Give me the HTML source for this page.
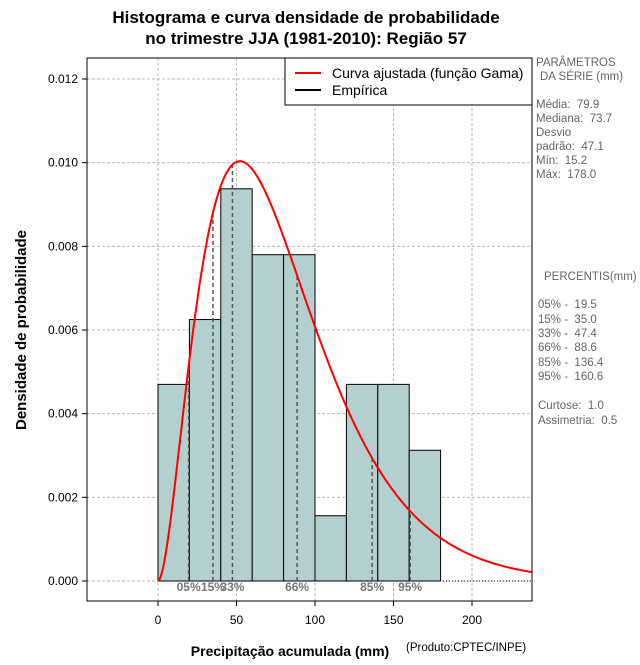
<!DOCTYPE html>
<html><head><meta charset="utf-8"><style>
body{margin:0;background:#fff;}
svg{font-family:"Liberation Sans",sans-serif;}
text{white-space:pre;}
</style></head><body>
<svg id="c" width="640" height="660" viewBox="0 0 640 660">
<text x="306" y="23" text-anchor="middle" font-size="17" font-weight="bold">Histograma e curva densidade de probabilidade</text>
<text x="306" y="44" text-anchor="middle" font-size="17" font-weight="bold">no trimestre JJA (1981-2010): Região 57</text>
<g id="grid"></g><g id="bars"></g><g id="pct"></g><g id="curve"></g><g id="axes"></g>
<rect x="87" y="58" width="445" height="543" fill="none" stroke="#000"/>
<g>
<rect x="285" y="58" width="247" height="47" fill="#fff" stroke="#000"/>
<line x1="295" y1="73" x2="321" y2="73" stroke="red" stroke-width="2"/>
<text x="332" y="78" font-size="14">Curva ajustada (função Gama)</text>
<line x1="295" y1="90" x2="321" y2="90" stroke="#000" stroke-width="2"/>
<text x="332" y="95" font-size="14">Empírica</text>
</g>
<g font-size="11.5" fill="#666">
<text x="536" y="66">PARÂMETROS</text><text x="540" y="80">DA SÉRIE (mm)</text>
<text x="536" y="108">Média:  79.9</text><text x="536" y="122">Mediana:  73.7</text>
<text x="536" y="136">Desvio</text><text x="536" y="150">padrão:  47.1</text>
<text x="536" y="164">Mín:  15.2</text><text x="536" y="178">Máx:  178.0</text>
<text x="544" y="280">PERCENTIS(mm)</text>
<text x="538" y="308">05% -  19.5</text><text x="538" y="323">15% -  35.0</text>
<text x="538" y="337">33% -  47.4</text><text x="538" y="351">66% -  88.6</text>
<text x="538" y="366">85% -  136.4</text><text x="538" y="380">95% -  160.6</text>
<text x="538" y="409">Curtose:  1.0</text><text x="538" y="424">Assimetria:  0.5</text>
</g>
<text x="290" y="656" text-anchor="middle" font-size="14" font-weight="bold">Precipitação acumulada (mm)</text>
<text x="406" y="651" font-size="11.5">(Produto:CPTEC/INPE)</text>
<text transform="translate(26,330) rotate(-90)" text-anchor="middle" font-size="15" font-weight="bold">Densidade de probabilidade</text>
</svg>
<script>
const binStarts=[0,20,40,60,80,100,120,140,160];
const densities=[0.0047,0.00625,0.009375,0.0078,0.0078,0.00156,0.0047,0.0047,0.003125];
const xTicks=[0,50,100,150,200];
const yTicks=[0,0.002,0.004,0.006,0.008,0.010,0.012];
const yTickLabels=["0.000","0.002","0.004","0.006","0.008","0.010","0.012"];
const pctValues=[19.5,35.0,47.4,88.6,136.4,160.6];
const pctLabels=["05%","15%","33%","66%","85%","95%"];
const meanVal=79.9, sdVal=47.1, binWidth=20;
const NS="http://www.w3.org/2000/svg";
const X=v=>158+v*1.57, Y=v=>581-v*(502/0.012);
function mk(t,a,p){const e=document.createElementNS(NS,t);for(const k in a)e.setAttribute(k,a[k]);document.getElementById(p).appendChild(e);return e;}
const k=(meanVal/sdVal)**2, th=sdVal*sdVal/meanVal;
function lg(z){const g=[676.5203681218851,-1259.1392167224028,771.32342877765313,-176.61502916214059,12.507343278686905,-0.13857109526572012,9.9843695780195716e-6,1.5056327351493116e-7];z-=1;let x=0.99999999999980993;for(let i=0;i<8;i++)x+=g[i]/(z+i+1);const t=z+7.5;return 0.5*Math.log(2*Math.PI)+(z+0.5)*Math.log(t)-t+Math.log(x);}
const pdf=x=>x<=0?0:Math.exp((k-1)*Math.log(x)-x/th-lg(k)-k*Math.log(th));
xTicks.forEach(t=>{let l=mk('line',{x1:X(t),x2:X(t),y1:58,y2:601,stroke:'#bbb','stroke-dasharray':'3,2'},'grid');
let tk=mk('line',{x1:X(t),x2:X(t),y1:601,y2:606,stroke:'#000'},'axes');
let tx=mk('text',{x:X(t),y:624,'text-anchor':'middle','font-size':'12'},'axes');tx.textContent=t;});
yTicks.forEach((t,i)=>{let l=mk('line',{x1:87,x2:532,y1:Y(t),y2:Y(t),stroke:'#bbb','stroke-dasharray':'3,2'},'grid');
let tk=mk('line',{x1:82,x2:87,y1:Y(t),y2:Y(t),stroke:'#000'},'axes');
let tx=mk('text',{x:78,y:Y(t)+4,'text-anchor':'end','font-size':'12'},'axes');tx.textContent=yTickLabels[i];});
binStarts.forEach((b,i)=>{let r=mk('rect',{x:X(b),y:Y(densities[i]),width:X(b+binWidth)-X(b),height:Y(0)-Y(densities[i]),fill:'#b4cfcf',stroke:'#000','stroke-width':1},'bars');});
let bl=mk('line',{x1:X(0),x2:532,y1:Y(0),y2:Y(0),stroke:'#000','stroke-dasharray':'1,2'},'bars');
pctValues.forEach((p,i)=>{let l=mk('line',{x1:X(p),x2:X(p),y1:Y(0),y2:Y(pdf(p)),stroke:'#555','stroke-width':1.5,'stroke-dasharray':'4,3'},'pct');
let t=mk('text',{x:X(p),y:591,'text-anchor':'middle','font-size':'12','font-weight':'bold',fill:'#777'},'pct');t.textContent=pctLabels[i];});
let d='';for(let x=0;x<=238;x+=1)d+=(x?'L':'M')+X(x).toFixed(1)+','+Y(pdf(x)).toFixed(1);
let c=mk('path',{d:d,fill:'none',stroke:'red','stroke-width':2},'curve');
</script>
</body></html>
